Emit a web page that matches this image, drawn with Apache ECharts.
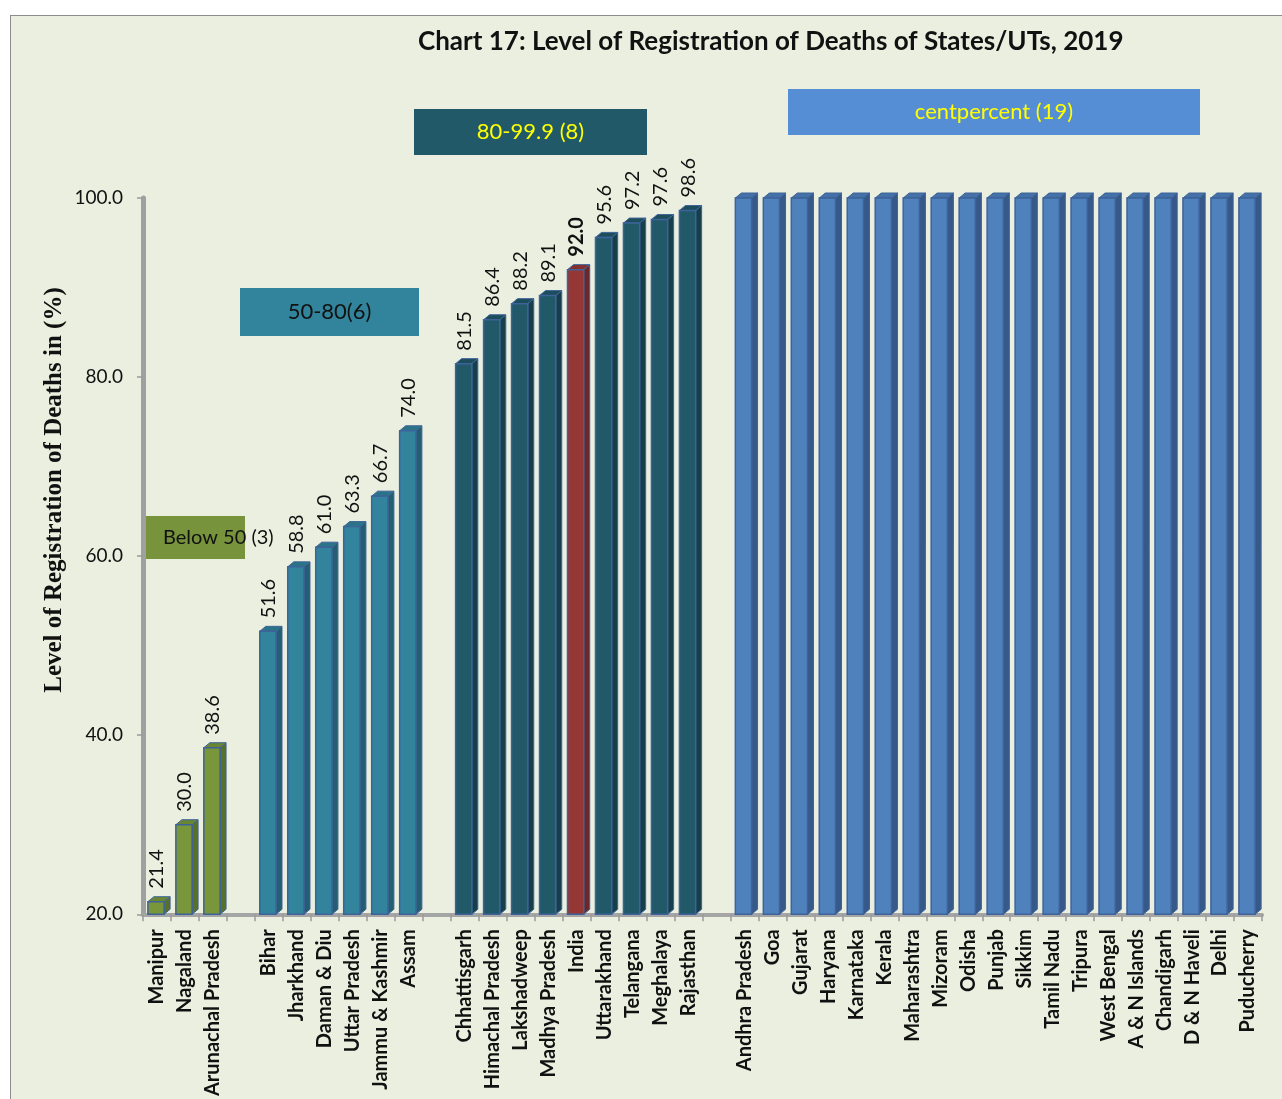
<!DOCTYPE html>
<html>
<head>
<meta charset="utf-8">
<script src="https://cdn.jsdelivr.net/npm/echarts@6/dist/echarts.min.js"></script>
<style>
  html, body { margin: 0; padding: 0; background: #ffffff; }
  #frame { position: absolute; left: 10px; top: 15px; width: 1290px; height: 1100px;
           background: #ebefe0; border: 1px solid #8c8c8c; }
  #main { position: absolute; left: 0; top: 0; width: 1282px; height: 1099px; }
</style>
</head>
<body>
<div id="frame"></div>
<div id="main"></div>
<script>
// 数据：按组排列，组与组之间留一个空位
var belowNames = ["Manipur", "Nagaland", "Arunachal Pradesh"];
var belowValues = [21.4, 30.0, 38.6];

var midNames = ["Bihar", "Jharkhand", "Daman & Diu", "Uttar Pradesh", "Jammu & Kashmir", "Assam"];
var midValues = [51.6, 58.8, 61.0, 63.3, 66.7, 74.0];

var highNames = ["Chhattisgarh", "Himachal Pradesh", "Lakshadweep", "Madhya Pradesh", "India",
  "Uttarakhand", "Telangana", "Meghalaya", "Rajasthan"];
var highValues = [81.5, 86.4, 88.2, 89.1, 92.0, 95.6, 97.2, 97.6, 98.6];

var fullNames = ["Andhra Pradesh", "Goa", "Gujarat", "Haryana", "Karnataka", "Kerala", "Maharashtra",
  "Mizoram", "Odisha", "Punjab", "Sikkim", "Tamil Nadu", "Tripura", "West Bengal", "A & N Islands",
  "Chandigarh", "D & N Haveli", "Delhi", "Puducherry"];
var fullValues = [100, 100, 100, 100, 100, 100, 100, 100, 100, 100, 100, 100, 100, 100, 100, 100, 100, 100, 100];

var groupLabels = ["Below 50 (3)", "50-80(6)", "80-99.9 (8)", "centpercent (19)"];
var groupShowValues = [true, true, true, false];

// 颜色: [正面, 侧面, 顶面]
var palette = [
  ["#7a963a", "#58702a", "#6a8632"],
  ["#31849b", "#235f70", "#2b7487"],
  ["#215968", "#163f4a", "#1c4d5a"],
  ["#4f81bd", "#37598a", "#4472a8"]
];
var indiaColors = ["#953735", "#6c2726", "#85302f"];

var groups = [
  [belowNames, belowValues],
  [midNames, midValues],
  [highNames, highValues],
  [fullNames, fullValues]
];

var categories = [];
var barData = [];
groups.forEach(function (g, gi) {
  if (gi > 0) categories.push("");
  g[0].forEach(function (name, i) {
    barData.push([categories.length, g[1][i], gi, name]);
    categories.push(name);
  });
});

var font = "Lato";

function renderItem(params, api) {
  var idx = api.value(0), v = api.value(1), gi = api.value(2);
  var name = barData[params.dataIndex][3];
  var top = api.coord([idx, v]);
  var base = api.coord([idx, 20]);
  var band = api.size([1, 0])[0];
  var w = band * 0.58, dx = 6, dy = 5;
  var x0 = top[0] - w / 2 - 1;
  var c = name === "India" ? indiaColors : palette[gi];
  var line = "#3e639a";
  var children = [
    { type: "polygon", shape: { points: [[x0 + w, top[1]], [x0 + w + dx, top[1] - dy], [x0 + w + dx, base[1] - dy], [x0 + w, base[1]]] },
      style: { fill: c[1], stroke: line, lineWidth: 1 } },
    { type: "polygon", shape: { points: [[x0, top[1]], [x0 + dx, top[1] - dy], [x0 + w + dx, top[1] - dy], [x0 + w, top[1]]] },
      style: { fill: c[2], stroke: line, lineWidth: 1 } },
    { type: "rect", shape: { x: x0, y: top[1], width: w, height: base[1] - top[1] },
      style: { fill: c[0], stroke: line, lineWidth: 1.5 } }
  ];
  if (groupShowValues[gi]) {
    children.push({ type: "text", x: x0 + w / 2 + 1, y: top[1] - dy - 8, rotation: Math.PI / 2,
      style: { text: v.toFixed(1), align: "left", verticalAlign: "middle", fill: "#111",
        font: (name === "India" ? "bold " : "") + "20px " + font } });
  }
  return { type: "group", children: children };
}

function box(x, y, w, h, fill, text, color, size, align) {
  return {
    type: "group", z: 50,
    children: [
      { type: "rect", shape: { x: x, y: y, width: w, height: h }, style: { fill: fill } },
      { type: "text", x: align === "left" ? x + 20 : x + w / 2, y: y + h / 2,
        style: { text: text, fill: color, font: size + "px " + font, align: align || "center", verticalAlign: "middle" } }
    ]
  };
}

var chart = echarts.init(document.getElementById("main"));
chart.setOption({
  backgroundColor: "transparent",
  animation: false,
  title: {
    text: "Chart 17: Level of Registration of Deaths of States/UTs, 2019",
    left: 413, top: 24,
    textStyle: { fontFamily: font, fontWeight: "bold", fontSize: 26, color: "#111" }
  },
  grid: { left: 143, right: 20, top: 198, bottom: 182 },
  xAxis: {
    type: "category",
    data: categories,
    axisLine: { lineStyle: { color: "#a5a5a5", width: 4 } },
    axisTick: { show: true, length: 7, lineStyle: { color: "#9a9a9a", width: 1.5 } },
    axisLabel: { rotate: 90, interval: 0, margin: 15, color: "#111", fontFamily: font,
      fontWeight: "bold", fontSize: 20 }
  },
  yAxis: {
    type: "value",
    min: 20, max: 100, interval: 20,
    splitLine: { show: false },
    axisLine: { show: true, lineStyle: { color: "#a0a0a0", width: 5 } },
    axisTick: { show: true, length: 6, lineStyle: { color: "#9a9a9a", width: 1.5 } },
    axisLabel: { formatter: function (v) { return v.toFixed(1); }, margin: 20, color: "#111",
      fontFamily: font, fontSize: 19 }
  },
  graphic: [
    { type: "text", x: 55, y: 490, rotation: Math.PI / 2, z: 50,
      style: { text: "Level of Registration of Deaths in (%)", font: "bold 25px 'Liberation Serif'",
        fill: "#111", align: "center", verticalAlign: "middle" } },
    box(143, 516, 102, 43, "#77933c", groupLabels[0], "#111", 20, "left"),
    box(240, 288, 179, 48, "#31849b", groupLabels[1], "#111", 22),
    box(414, 109, 233, 46, "#215968", groupLabels[2], "#ffff00", 22),
    box(788, 89, 412, 46, "#558ed5", groupLabels[3], "#ffff00", 22)
  ],
  series: [{
    type: "custom",
    renderItem: renderItem,
    data: barData,
    encode: { x: 0, y: 1 }
  }]
});
</script>
</body>
</html>
